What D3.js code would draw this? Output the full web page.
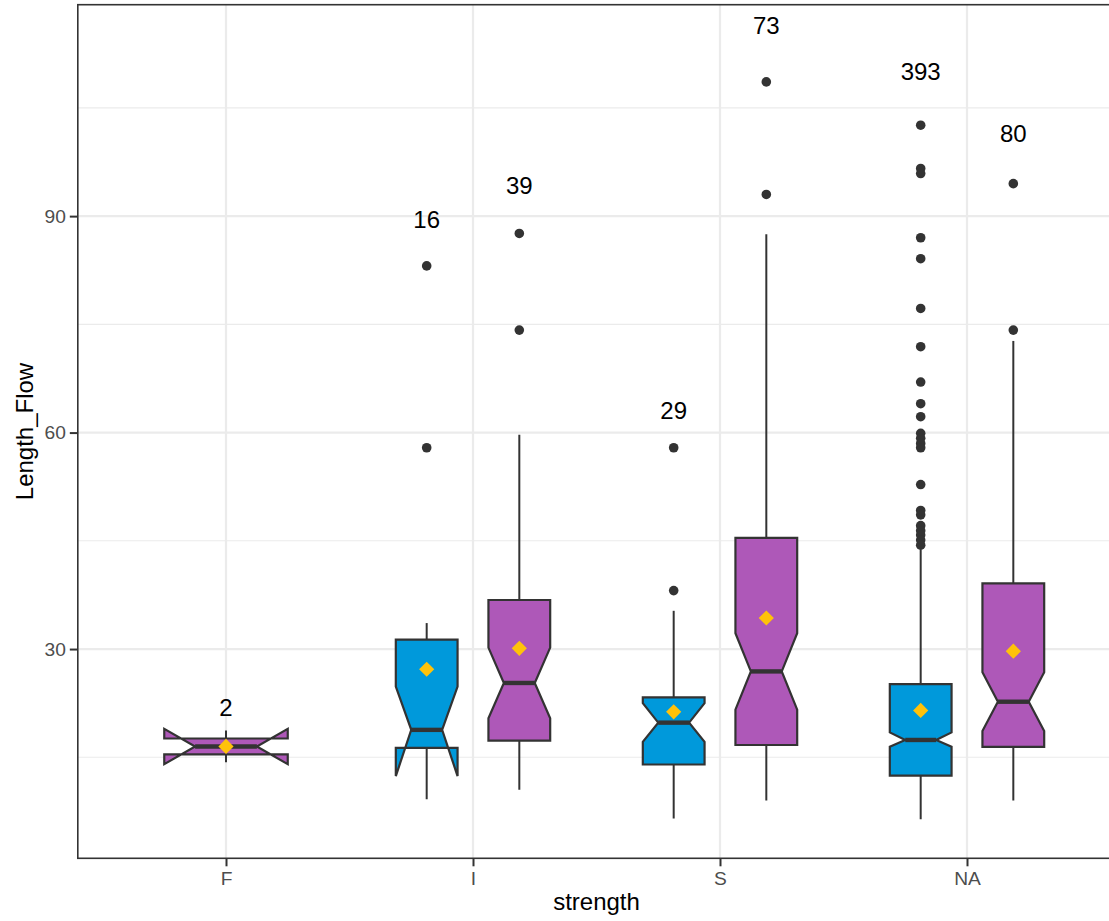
<!DOCTYPE html>
<html>
<head>
<meta charset="utf-8">
<script src="https://cdn.jsdelivr.net/npm/d3@7"></script>
<style>
	body { margin: 0; background: #fff; }
	text { font-family: "Liberation Sans", Arial, Helvetica, sans-serif; }
</style>
</head>
<body>
<svg id="chart" width="1109" height="921"></svg>
<script>
/* global d3 */

//* categories and boxes (one entry per box)
var categories = ["F", "I", "S", "NA"];
var groupColors = ["#0099DB", "#AE58B8"];

var boxCategory = ["F", "I", "I", "S", "S", "NA", "NA"];
var boxGroup    = [1, 0, 1, 0, 1, 0, 1];
var boxSlots    = [1, 2, 2, 2, 2, 2, 2];

var whiskerLow  = [14.3, 9.2, 10.5, 6.5, 9.0, 6.4, 9.0];
var q1          = [15.4, 16.3, 17.3, 14.0, 16.7, 12.45, 16.45];
var median      = [16.5, 18.8, 25.3, 19.8, 26.9, 17.4, 22.7];
var q3          = [17.6, 31.3, 36.8, 23.3, 45.4, 25.15, 39.1];
var whiskerHigh = [18.7, 33.6, 59.7, 35.3, 87.5, 43.8, 72.7];
var notchLow    = [14.05, 12.4, 20.4, 17.15, 21.6, 16.45, 18.65];
var notchHigh   = [18.95, 24.8, 30.2, 22.5, 32.2, 18.45, 26.8];
var means       = [16.5, 27.2, 30.1, 21.3, 34.3, 21.5, 29.7];
var counts      = [2, 16, 39, 29, 73, 393, 80];
var countLabelY = [21.9, 89.6, 94.3, 63.1, 116.4, 110.0, 101.5];
var outliers    = [
	[],
	[83.1, 57.9],
	[87.6, 74.2],
	[57.9, 38.1],
	[108.6, 93.0],
	[102.6, 96.6, 95.9, 87.0, 84.1, 77.2, 71.9, 67.0, 64.0, 62.2, 59.9, 59.2, 58.5, 57.9,
	 52.8, 49.2, 48.6, 47.1, 46.4, 45.8, 45.1, 44.4],
	[94.5, 74.2]
];

var yMajorTicks = [30, 60, 90];
var yMinorTicks = [15, 45, 75, 105];

//* layout
var PANEL = { left: 77.8, right: 1115.2, top: 4.7, bottom: 858.3 };
var DARK = "#333333";

var svg = d3.select("#chart");

var x = d3.scalePoint()
	.domain(categories)
	.range([PANEL.left, PANEL.right])
	.padding(0.6);

var y = d3.scaleLinear()
	.domain([1.0, 119.3])
	.range([PANEL.bottom, PANEL.top]);

var step = x.step();

//* build box objects from the arrays
var boxes = boxCategory.map(function(cat, i) {
	var slots = boxSlots[i];
	var dodge = 0.75 * step;
	var center = x(cat);
	if (slots > 1) center += (boxGroup[i] - (slots - 1) / 2) * dodge / slots;
	var half = 0.5 * step / slots / 2;
	return {
		cat: cat, cx: center, xmin: center - half, xmax: center + half,
		color: groupColors[boxGroup[i]],
		lo: whiskerLow[i], q1: q1[i], med: median[i], q3: q3[i], hi: whiskerHigh[i],
		nlo: notchLow[i], nhi: notchHigh[i], mean: means[i], n: counts[i],
		labelY: countLabelY[i], out: outliers[i]
	};
});

var panel = svg.append("g").attr("class", "panel");

panel.append("clipPath").attr("id", "clip")
	.append("rect")
	.attr("x", PANEL.left).attr("y", PANEL.top)
	.attr("width", PANEL.right - PANEL.left).attr("height", PANEL.bottom - PANEL.top);

var plot = panel.append("g").attr("clip-path", "url(#clip)");

//* GRID
plot.selectAll(".minor").data(yMinorTicks).enter().append("line")
	.attr("class", "minor")
	.attr("x1", PANEL.left).attr("x2", PANEL.right)
	.attr("y1", function(d) { return y(d); })
	.attr("y2", function(d) { return y(d); })
	.style("stroke", "#EBEBEB").style("stroke-width", 1.1);

plot.selectAll(".majorY").data(yMajorTicks).enter().append("line")
	.attr("class", "majorY")
	.attr("x1", PANEL.left).attr("x2", PANEL.right)
	.attr("y1", function(d) { return y(d); })
	.attr("y2", function(d) { return y(d); })
	.style("stroke", "#EBEBEB").style("stroke-width", 2.2);

plot.selectAll(".majorX").data(categories).enter().append("line")
	.attr("class", "majorX")
	.attr("y1", PANEL.top).attr("y2", PANEL.bottom)
	.attr("x1", function(d) { return x(d); })
	.attr("x2", function(d) { return x(d); })
	.style("stroke", "#EBEBEB").style("stroke-width", 2.2);

//* BOXES
var b = plot.selectAll(".box").data(boxes).enter().append("g").attr("class", "box");

// outliers
b.each(function(d) {
	d3.select(this).selectAll("circle").data(d.out).enter().append("circle")
		.attr("cx", d.cx)
		.attr("cy", function(v) { return y(v); })
		.attr("r", 4.8)
		.style("fill", DARK);
});

// whiskers
b.append("line")
	.attr("x1", function(d) { return d.cx; }).attr("x2", function(d) { return d.cx; })
	.attr("y1", function(d) { return y(d.q3); }).attr("y2", function(d) { return y(d.hi); })
	.style("stroke", DARK).style("stroke-width", 2);

b.append("line")
	.attr("x1", function(d) { return d.cx; }).attr("x2", function(d) { return d.cx; })
	.attr("y1", function(d) { return y(d.q1); }).attr("y2", function(d) { return y(d.lo); })
	.style("stroke", DARK).style("stroke-width", 2);

// notched body, same vertex order as ggplot's crossbar
b.append("path")
	.attr("d", function(d) {
		var ind = (d.xmax - d.xmin) * 0.25;
		var pts = [
			[d.xmin, d.q3], [d.xmin, d.nhi], [d.xmin + ind, d.med], [d.xmin, d.nlo], [d.xmin, d.q1],
			[d.xmax, d.q1], [d.xmax, d.nlo], [d.xmax - ind, d.med], [d.xmax, d.nhi], [d.xmax, d.q3]
		];
		return "M" + pts.map(function(p) { return p[0] + "," + y(p[1]); }).join("L") + "Z";
	})
	.style("fill", function(d) { return d.color; })
	.style("stroke", DARK).style("stroke-width", 2.2)
	.style("stroke-linejoin", "miter");

// median
b.append("line")
	.attr("x1", function(d) { return d.xmin + (d.xmax - d.xmin) * 0.25; })
	.attr("x2", function(d) { return d.xmax - (d.xmax - d.xmin) * 0.25; })
	.attr("y1", function(d) { return y(d.med); }).attr("y2", function(d) { return y(d.med); })
	.style("stroke", DARK).style("stroke-width", 4.4);

// mean diamond
b.append("path")
	.attr("d", function(d) {
		var cy = y(d.mean), r = 7.6;
		return "M" + d.cx + "," + (cy - r) + "L" + (d.cx + r) + "," + cy +
			"L" + d.cx + "," + (cy + r) + "L" + (d.cx - r) + "," + cy + "Z";
	})
	.style("fill", "#FFC20A");

// counts
b.append("text")
	.attr("x", function(d) { return d.cx; })
	.attr("y", function(d) { return y(d.labelY); })
	.attr("dy", "0.36em")
	.attr("font-size", 24)
	.style("text-anchor", "middle")
	.style("fill", "#000")
	.text(function(d) { return d.n; });

//* PANEL BORDER
panel.append("rect")
	.attr("x", PANEL.left).attr("y", PANEL.top)
	.attr("width", PANEL.right - PANEL.left).attr("height", PANEL.bottom - PANEL.top)
	.style("fill", "none").style("stroke", DARK).style("stroke-width", 1.6);

//* AXES
var yAxis = svg.append("g")
	.attr("transform", "translate(" + PANEL.left + ",0)")
	.call(d3.axisLeft(y).tickValues(yMajorTicks).tickSize(8).tickPadding(4));

var xAxis = svg.append("g")
	.attr("transform", "translate(0," + PANEL.bottom + ")")
	.call(d3.axisBottom(x).tickSize(8).tickPadding(5));

[yAxis, xAxis].forEach(function(ax) {
	ax.select(".domain").remove();
	ax.selectAll(".tick line").style("stroke", DARK).style("stroke-width", 2);
	ax.selectAll(".tick text")
		.attr("font-family", "Liberation Sans, Arial, sans-serif")
		.attr("font-size", 19.2)
		.style("fill", "#4D4D4D");
});

//* TITLES
svg.append("text")
	.attr("x", (PANEL.left + PANEL.right) / 2)
	.attr("y", 910)
	.attr("font-size", 24)
	.style("text-anchor", "middle")
	.style("fill", "#000")
	.text("strength");

svg.append("text")
	.attr("transform", "translate(33," + ((PANEL.top + PANEL.bottom) / 2) + ") rotate(-90)")
	.attr("font-size", 24)
	.style("text-anchor", "middle")
	.style("fill", "#000")
	.text("Length_Flow");
</script>
</body>
</html>
